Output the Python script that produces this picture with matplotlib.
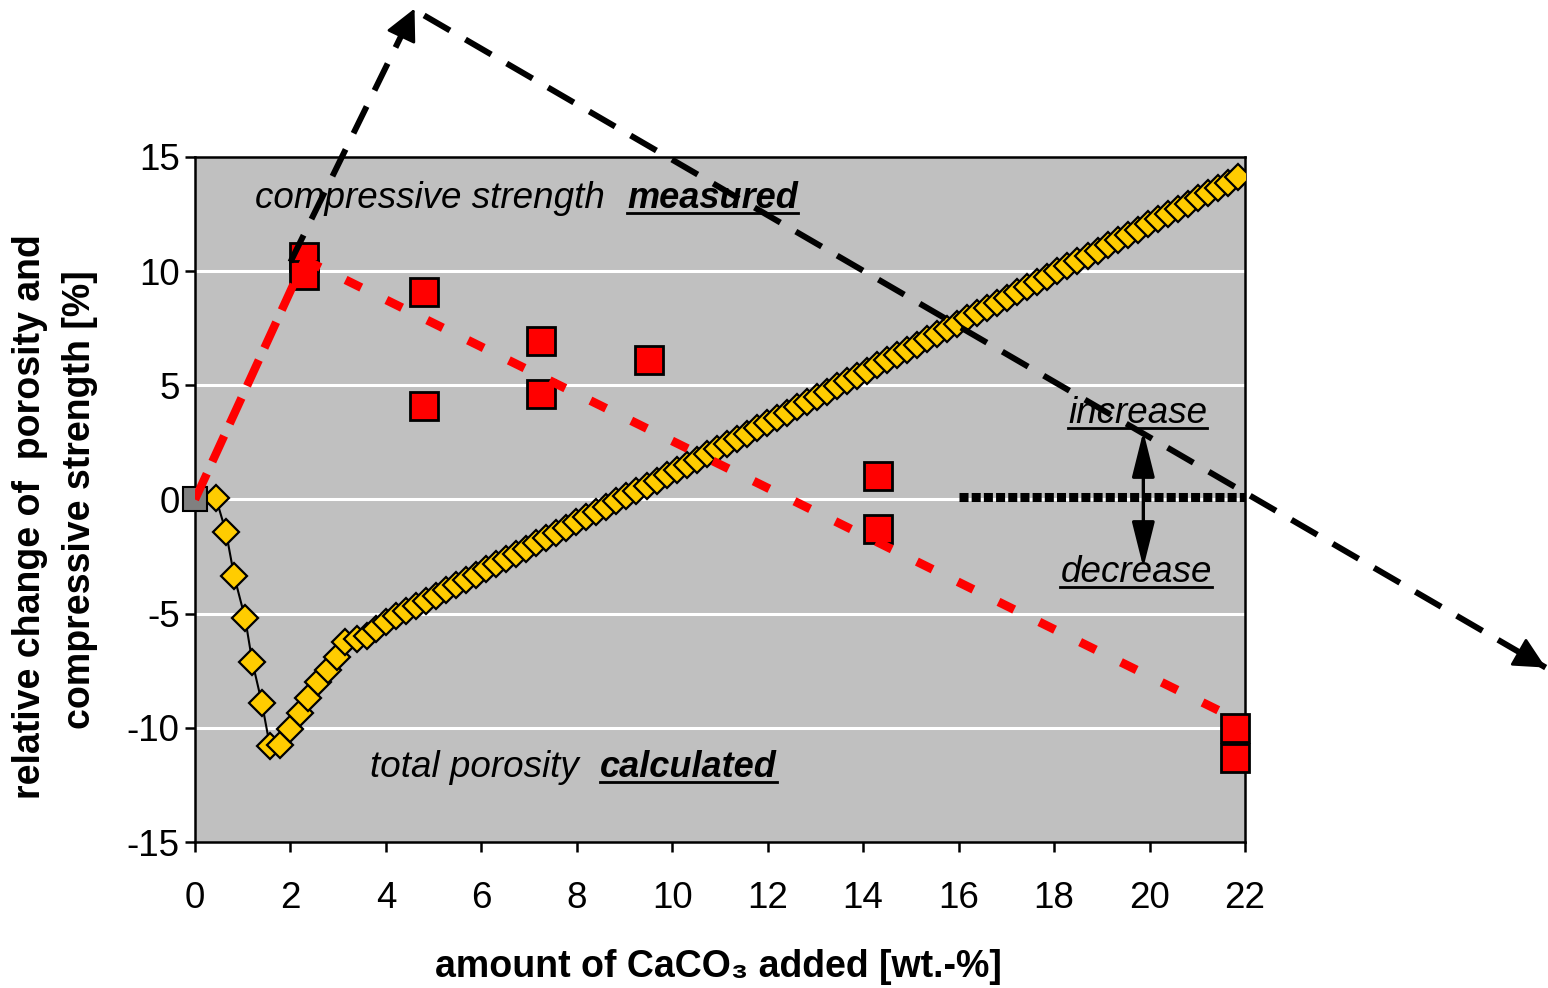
import matplotlib
matplotlib.use("Agg")
import matplotlib.pyplot as plt
from matplotlib.lines import Line2D

plt.rcParams['font.family'] = ['Liberation Sans', 'DejaVu Sans']
plt.rcParams['axes.unicode_minus'] = False

# total porosity (calculated)
por_x = [0.44, 0.65, 0.82, 1.05, 1.20, 1.40, 1.57, 1.78, 1.99, 2.20, 2.37, 2.58, 2.79, 2.97, 3.14, 3.39, 3.60, 3.80,
         4.00, 4.21, 4.42, 4.63, 4.84, 5.05, 5.26, 5.47, 5.68, 5.89, 6.10, 6.31, 6.52, 6.73, 6.94, 7.15, 7.36,
         7.57, 7.78, 7.99, 8.20, 8.41, 8.62, 8.83, 9.04, 9.25, 9.46, 9.67, 9.88, 10.09, 10.30, 10.51, 10.72,
         10.93, 11.14, 11.35, 11.56, 11.77, 11.98, 12.19, 12.40, 12.61, 12.82, 13.03, 13.24, 13.45, 13.66,
         13.87, 14.08, 14.29, 14.50, 14.71, 14.92, 15.13, 15.34, 15.55, 15.76, 15.97, 16.18, 16.39, 16.60,
         16.81, 17.02, 17.23, 17.44, 17.65, 17.86, 18.07, 18.28, 18.49, 18.70, 18.91, 19.12, 19.33, 19.54,
         19.75, 19.96, 20.17, 20.38, 20.59, 20.80, 21.01, 21.22, 21.43, 21.64, 21.85]
por_y = [0.05, -1.43, -3.35, -5.20, -7.10, -8.90, -10.80, -10.75, -10.07, -9.34, -8.70, -8.00, -7.45, -6.90, -6.25,
         -6.13, -6.00, -5.65,
         -5.35, -5.12, -4.89, -4.66, -4.43, -4.21, -3.98, -3.75, -3.52, -3.29, -3.06, -2.83, -2.60, -2.37,
         -2.15, -1.92, -1.69, -1.46, -1.23, -1.00, -0.77, -0.54, -0.31, -0.08, 0.14, 0.37, 0.60, 0.83, 1.06,
         1.29, 1.52, 1.75, 1.98, 2.20, 2.43, 2.66, 2.89, 3.12, 3.35, 3.58, 3.81, 4.04, 4.26, 4.49, 4.72, 4.95,
         5.18, 5.41, 5.64, 5.87, 6.10, 6.32, 6.55, 6.78, 7.01, 7.24, 7.47, 7.70, 7.93, 8.16, 8.38, 8.61, 8.84,
         9.07, 9.30, 9.53, 9.76, 9.99, 10.22, 10.44, 10.67, 10.90, 11.13, 11.36, 11.59, 11.82, 12.05, 12.28,
         12.50, 12.73, 12.96, 13.19, 13.42, 13.65, 13.88, 14.11]

# compressive strength (measured)
cs_x = [2.28, 2.28, 4.80, 4.80, 7.25, 7.25, 9.52, 14.32, 14.32, 21.80, 21.80]
cs_y = [10.60, 9.85, 9.10, 4.10, 6.96, 4.60, 6.13, 1.05, -1.30, -10.00, -11.30]
ref_x = [0.0]
ref_y = [0.0]

# trend of compressive strength
rise_x = [0.0, 2.3]
rise_y = [0.0, 10.5]
fall_x = [2.3, 21.8]
fall_y = [10.5, -9.6]

# guide arrows
up_x = [2.0, 4.6]
up_y = [10.4, 21.5]
down_x = [4.8, 28.3]
down_y = [21.2, -7.36]
zero_x = [16.0, 22.0]
zero_y = [0.1, 0.1]

xticks = list(range(0, 23, 2))
yticks = [-15, -10, -5, 0, 5, 10, 15]

fig = plt.figure(figsize=(15.48, 9.88), dpi=100)
ax = fig.add_axes([195 / 1548, 1 - 842 / 988, 1050 / 1548, 685 / 988])
ax.set_facecolor('#c0c0c0')
ax.set_xlim(0, 22)
ax.set_ylim(-15, 15)
ax.set_xticks(xticks)
ax.set_yticks(yticks)
for v in yticks[1:-1]:
    ax.axhline(v, color='white', lw=2.2, zorder=1)
for s in ax.spines.values():
    s.set_linewidth(1.8)
ax.tick_params(axis='both', direction='out', length=7, width=1.8, labelsize=26.5)
ax.tick_params(axis='x', pad=21)
ax.tick_params(axis='y', pad=4)

ax.plot(por_x, por_y, color='black', lw=1.5, marker='D', ms=13.5, mfc='#ffcc00', mec='black', mew=1.6, zorder=3)
ax.plot(ref_x, ref_y, ls='none', marker='s', ms=17.5, mfc='#808080', mec='black', mew=1.5, zorder=3, clip_on=False)
ax.plot(cs_x, cs_y, ls='none', marker='s', ms=20.5, mfc='#ff0000', mec='black', mew=2, zorder=4, clip_on=False)

ax.plot(rise_x, rise_y, color='#ff0000', lw=6, ls=(0, (3.4, 1.6)), zorder=5)
ax.plot(fall_x, fall_y, color='#ff0000', lw=6.3, ls=(0, (2.0, 3.2)), zorder=5)

ax.plot(zero_x, zero_y, color='black', lw=6.5, ls=(0, (1, 0.35)), zorder=6, clip_on=False)
ax.annotate('', xy=(19.87, -2.98), xytext=(19.87, 2.98),
            arrowprops=dict(arrowstyle='<|-|>,head_length=1.4,head_width=0.35', color='black', lw=2.4,
                            shrinkA=0, shrinkB=0, mutation_scale=20), zorder=6)

ax.plot(up_x, up_y, color='black', lw=4.3, ls=(0, (5, 3)), zorder=7, clip_on=False)
ax.plot(down_x, down_y, color='black', lw=4.3, ls=(0, (5, 3)), zorder=7, clip_on=False)
ax.annotate('', xy=(up_x[1], up_y[1]), xytext=(up_x[1] - 0.25, up_y[1] - 1.1), annotation_clip=False,
            arrowprops=dict(arrowstyle='-|>,head_length=0.9,head_width=0.45', color='black', lw=2,
                            shrinkA=0, shrinkB=0, mutation_scale=22), zorder=7)
ax.annotate('', xy=(down_x[1], down_y[1]), xytext=(down_x[1] - 0.6, down_y[1] + 0.72), annotation_clip=False,
            arrowprops=dict(arrowstyle='-|>,head_length=0.9,head_width=0.45', color='black', lw=2,
                            shrinkA=0, shrinkB=0, mutation_scale=22), zorder=7)

fs = 26.5
ax.text(1.26, 13.2, 'compressive strength', style='italic', fontsize=fs, va='center', zorder=6)
t1 = ax.text(9.06, 13.2, 'measured', style='italic', weight='bold', fontsize=fs - 0.5, va='center', zorder=6)
ax.text(3.67, -11.74, 'total porosity', style='italic', fontsize=fs, va='center', zorder=6)
t2 = ax.text(8.49, -11.74, 'calculated', style='italic', weight='bold', fontsize=fs - 0.5, va='center', zorder=6)
t3 = ax.text(19.75, 3.75, 'increase', style='italic', fontsize=fs, va='center', ha='center', zorder=6)
t4 = ax.text(19.72, -3.2, 'decrease', style='italic', fontsize=fs, va='center', ha='center', zorder=6)

fig.text(718 / 1548, 1 - 967 / 988, 'amount of CaCO₃ added [wt.-%]', fontsize=27, weight='bold',
         ha='center', va='center')
fig.text(30 / 1548, 1 - 517 / 988, 'relative change of  porosity and', fontsize=27, weight='bold',
         rotation=90, ha='center', va='center')
fig.text(80 / 1548, 1 - 500 / 988, 'compressive strength [%]', fontsize=27, weight='bold',
         rotation=90, ha='center', va='center')

fig.canvas.draw()
inv = fig.transFigure.inverted()
for t in [t1, t2, t3, t4]:
    bb = t.get_window_extent()
    (x0, y0), (x1, _) = inv.transform([[bb.x0, bb.y0 + 3], [bb.x1, bb.y0]])
    fig.add_artist(Line2D([x0, x1], [y0, y0], color='black', lw=2, zorder=8))

fig.savefig('out.png', dpi=100)
